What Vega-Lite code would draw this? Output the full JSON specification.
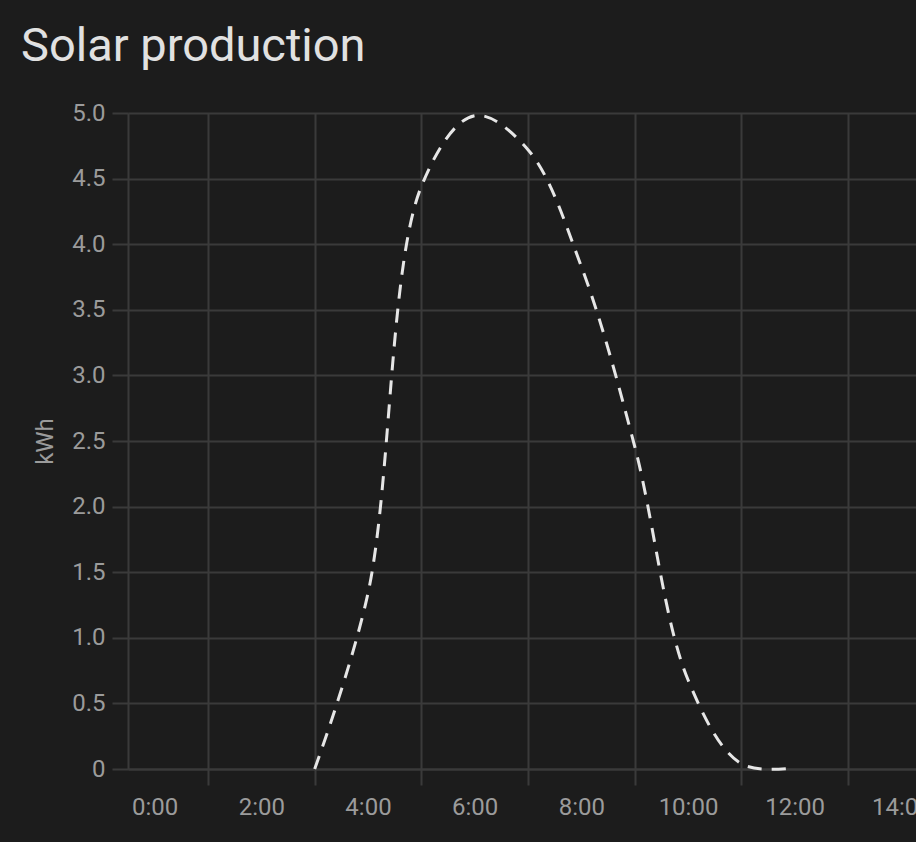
{
  "$schema": "https://vega.github.io/schema/vega-lite/v6.json",
  "autosize": {"type": "none"},
  "width": 788,
  "height": 656,
  "padding": {"left": 128, "top": 113, "right": 0, "bottom": 73},
  "background": "#1c1c1c",
  "title": {
    "text": "Solar production",
    "anchor": "start",
    "frame": "group",
    "baseline": "alphabetic",
    "dx": -107,
    "dy": 48,
    "offset": 41,
    "font": "Roboto",
    "fontSize": 47,
    "fontWeight": "normal",
    "color": "#e1e1e1"
  },
  "config": {"view": {"stroke": null}, "font": "Roboto"},
  "data": {
    "values": [
      {"hour": 3, "kWh": 0},
      {"hour": 4, "kWh": 1.34},
      {"hour": 5, "kWh": 4.44},
      {"hour": 6, "kWh": 4.98},
      {"hour": 7, "kWh": 4.72},
      {"hour": 8, "kWh": 3.83},
      {"hour": 9, "kWh": 2.46},
      {"hour": 10, "kWh": 0.68},
      {"hour": 11, "kWh": 0.04},
      {"hour": 12, "kWh": 0.01}
    ]
  },
  "mark": {
    "type": "line",
    "interpolate": "catmull-rom",
    "strokeDash": [14, 10],
    "strokeWidth": 3,
    "color": "#e6e6e6"
  },
  "encoding": {
    "x": {
      "field": "hour",
      "type": "quantitative",
      "scale": {"domain": [-0.5, 14.275], "nice": false, "zero": false},
      "axis": {
        "title": null,
        "values": [0, 1, 2, 3, 4, 5, 6, 7, 8, 9, 10, 11, 12, 13, 14],
        "labelExpr": "datum.value % 2 == 0 ? datum.value + ':00' : ''",
        "labelOverlap": false,
        "labelFlush": false,
        "labelFont": "Roboto",
        "labelFontSize": 24,
        "labelColor": "#9b9b9b",
        "labelPadding": 10,
        "tickSize": 16,
        "tickWidth": 2,
        "tickColor": {"condition": {"test": "datum.value % 2 == 1", "value": "#3a3a3a"}, "value": "transparent"},
        "gridColor": {"condition": {"test": "datum.value % 2 == 1", "value": "#3a3a3a"}, "value": "transparent"},
        "gridWidth": 2,
        "domainColor": "#3a3a3a",
        "domainWidth": 2
      }
    },
    "y": {
      "field": "kWh",
      "type": "quantitative",
      "scale": {"domain": [0, 5], "nice": false},
      "axis": {
        "title": "kWh",
        "titleFont": "Roboto",
        "titleFontSize": 24,
        "titleFontWeight": "normal",
        "titleColor": "#9b9b9b",
        "titlePadding": 14,
        "values": [0, 0.5, 1, 1.5, 2, 2.5, 3, 3.5, 4, 4.5, 5],
        "labelExpr": "datum.value == 0 ? '0' : format(datum.value, '.1f')",
        "labelFont": "Roboto",
        "labelFontSize": 24,
        "labelColor": "#9b9b9b",
        "labelPadding": 7,
        "tickSize": 16,
        "tickWidth": 2,
        "tickColor": "#3a3a3a",
        "gridColor": "#3a3a3a",
        "gridWidth": 2,
        "domainColor": "#3a3a3a",
        "domainWidth": 2
      }
    }
  }
}
